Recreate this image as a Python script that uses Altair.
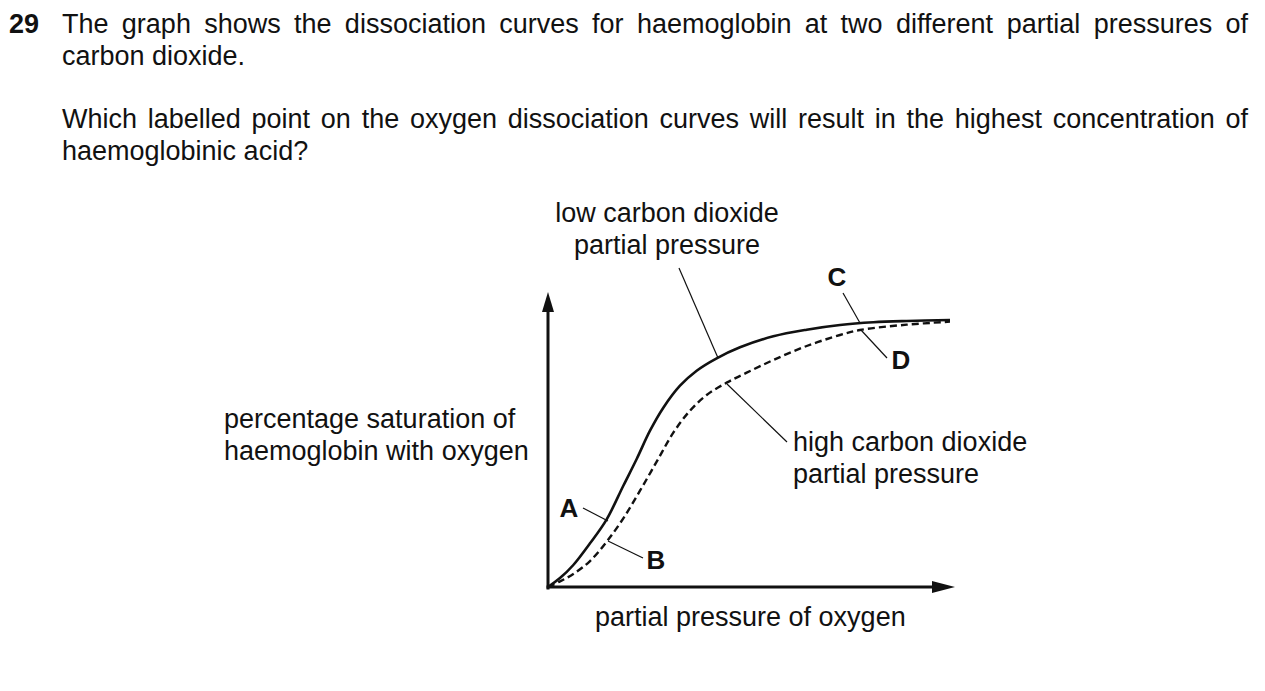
import altair as alt
import pandas as pd

# ---------------- data (diagram units: pressure 0-100, saturation 0-100) ----------------
pressure_low = [0, 3.0, 6.33, 10.5, 14.67, 18.83, 22.17, 25.5, 28.83, 33.0, 37.17, 42.17, 48.0,
                56.33, 64.67, 73.0, 81.33, 89.67, 100.5]
saturation_low = [0, 3.3, 8.15, 16.17, 25.07, 37.5, 47.41, 57.89, 66.41, 74.56, 80.11, 84.7, 88.78,
                  92.85, 95.3, 97.04, 98.04, 98.52, 98.89]

pressure_high = [0, 3.0, 6.33, 10.5, 14.67, 18.83, 23.0, 27.17, 31.33, 35.5, 39.67, 44.67, 49.67,
                 56.33, 64.67, 73.0, 78.0, 89.67, 100.5]
saturation_high = [0, 2.1, 4.81, 9.63, 16.79, 25.43, 35.68, 46.42, 57.16, 65.31, 71.11, 75.68, 79.38,
                   84.07, 89.26, 93.33, 95.19, 97.16, 98.27]

question_number = "29"
question_lines = [
    "The graph shows the dissociation curves for haemoglobin at two different partial pressures of",
    "carbon dioxide.",
    "Which labelled point on the oxygen dissociation curves will result in the highest concentration of",
    "haemoglobinic acid?",
]
question_justified = [True, False, True, False]
question_baselines = [205.19, 193.33, 170.0, 158.15]

left_labels = ["percentage saturation of", "haemoglobin with oxygen",
               "high carbon dioxide", "partial pressure",
               "partial pressure of oxygen"]
left_label_x = [-81, -81, 61.25, 61.25, 11.75]
left_label_y = [58.89, 47.04, 50.37, 38.52, -14.44]

center_labels = ["low carbon dioxide", "partial pressure"]
center_label_x = [29.75, 29.75]
center_label_y = [135.19, 123.33]

point_letters = ["A", "B", "C", "D"]
point_letter_x = [5.25, 27.0, 72.25, 88.25]
point_letter_y = [25.93, 6.67, 111.48, 80.74]

# leader lines: start -> end (on curve)
leader_x1 = [32.75, 59.75, 8.75, 23.75, 73.75, 84.75]
leader_y1 = [118.15, 53.7, 29.26, 10.74, 108.89, 84.81]
leader_x2 = [42.5, 44.75, 15.0, 15.0, 78.0, 78.25]
leader_y2 = [84.81, 75.19, 24.44, 17.04, 97.78, 95.19]

# axes
axis_x1 = [0, 0]
axis_y1 = [-0.4, 0]
axis_x2 = [0, 97]
axis_y2 = [104, 0]

# ---------------- layout helpers ----------------
X_DOMAIN = [-135, 177.25]          # 4 px per unit
Y_DOMAIN = [-33.70, 214.444]       # 2.7 px per unit
PX_PER_X = 4.0
TEXT_LEFT = -121.5
TEXT_RIGHT = 175.0
FONT = "Liberation Sans"
FS = 27
INK = "#111111"

ARIAL = {" ": 278, ".": 278, "?": 556, "a": 556, "b": 556, "c": 500, "d": 556, "e": 556,
         "f": 278, "g": 556, "h": 556, "i": 222, "j": 222, "k": 500, "l": 222, "m": 833,
         "n": 556, "o": 556, "p": 556, "q": 556, "r": 333, "s": 500, "t": 278, "u": 556,
         "v": 500, "w": 722, "x": 500, "y": 500, "z": 500, "T": 611, "W": 944}


def width_units(word):
    return sum(ARIAL.get(c, 556) for c in word) / 1000 * FS / PX_PER_X


rows = []
for line, just, base in zip(question_lines, question_justified, question_baselines):
    if just:
        words = line.split(" ")
        widths = [width_units(w) for w in words]
        gap = (TEXT_RIGHT - TEXT_LEFT - sum(widths)) / (len(words) - 1)
        pos = TEXT_LEFT
        for w, wd in zip(words, widths):
            rows.append({"text": w, "x": pos, "y": base})
            pos += wd + gap
    else:
        rows.append({"text": line, "x": TEXT_LEFT, "y": base})
for t, x, y in zip(left_labels, left_label_x, left_label_y):
    rows.append({"text": t, "x": x, "y": y})
left_df = pd.DataFrame(rows)

center_df = pd.DataFrame({"text": center_labels, "x": center_label_x, "y": center_label_y})
letters_df = pd.DataFrame({"text": point_letters, "x": point_letter_x, "y": point_letter_y})
number_df = pd.DataFrame({"text": [question_number], "x": [-134.75], "y": [question_baselines[0]]})

low_df = pd.DataFrame({"x": pressure_low, "y": saturation_low})
high_df = pd.DataFrame({"x": pressure_high, "y": saturation_high})
leader_df = pd.DataFrame({"x": leader_x1, "y": leader_y1, "x2": leader_x2, "y2": leader_y2})
axis_df = pd.DataFrame({"x": axis_x1, "y": axis_y1, "x2": axis_x2, "y2": axis_y2})
arrow_up_df = pd.DataFrame({"x": [0], "y": [105.56]})
arrow_right_df = pd.DataFrame({"x": [98.875], "y": [0]})

xs = alt.Scale(domain=X_DOMAIN, nice=False, zero=False)
ys = alt.Scale(domain=Y_DOMAIN, nice=False, zero=False)
X = alt.X("x:Q", scale=xs, axis=None)
Y = alt.Y("y:Q", scale=ys, axis=None)

low_line = alt.Chart(low_df).mark_line(interpolate="catmull-rom", color=INK, strokeWidth=2.6).encode(x=X, y=Y)
high_line = alt.Chart(high_df).mark_line(interpolate="catmull-rom", color=INK, strokeWidth=2.4,
                                          strokeDash=[7, 4]).encode(x=X, y=Y)
axes = alt.Chart(axis_df).mark_rule(color=INK, strokeWidth=3, strokeCap="square").encode(
    x=X, y=Y, x2="x2:Q", y2="y2:Q")
leaders = alt.Chart(leader_df).mark_rule(color=INK, strokeWidth=1.2).encode(
    x=X, y=Y, x2="x2:Q", y2="y2:Q")
arrow_up = alt.Chart(arrow_up_df).mark_point(
    shape="M0,-1L0.6,1L-0.6,1Z", size=400, filled=True, opacity=1, color=INK, strokeWidth=0
).encode(x=X, y=Y)
arrow_right = alt.Chart(arrow_right_df).mark_point(
    shape="M1,0L-1,-0.52L-1,0.52Z", size=529, filled=True, opacity=1, color=INK, strokeWidth=0
).encode(x=X, y=Y)

left_text = alt.Chart(left_df).mark_text(
    align="left", baseline="alphabetic", font=FONT, fontSize=FS, color=INK
).encode(x=X, y=Y, text="text:N")
center_text = alt.Chart(center_df).mark_text(
    align="center", baseline="alphabetic", font=FONT, fontSize=FS, color=INK
).encode(x=X, y=Y, text="text:N")
letters_text = alt.Chart(letters_df).mark_text(
    align="center", baseline="alphabetic", font=FONT, fontSize=26, fontWeight="bold", color=INK
).encode(x=X, y=Y, text="text:N")
number_text = alt.Chart(number_df).mark_text(
    align="left", baseline="alphabetic", font=FONT, fontSize=FS, fontWeight="bold", color=INK
).encode(x=X, y=Y, text="text:N")

chart = alt.layer(
    low_line, high_line, axes, leaders, arrow_up, arrow_right,
    left_text, center_text, letters_text, number_text
).properties(
    width=1249, height=670,
    autosize=alt.AutoSizeParams(type="fit", contains="padding"),
    padding=0, background="white"
).configure_view(stroke=None)

chart.save("out.html", embed_options={"renderer": "svg", "actions": False})
